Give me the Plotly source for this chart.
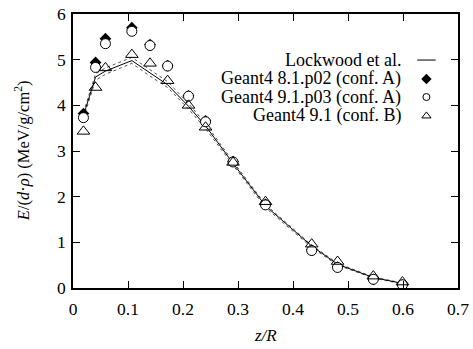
import plotly.graph_objects as go

# Depth positions z/R
z = [0.019, 0.041, 0.059, 0.107, 0.140, 0.172, 0.210, 0.241, 0.291, 0.350, 0.434, 0.481, 0.546, 0.599]

# Lockwood et al. measurement with upper/lower uncertainty bounds
lockwood = [3.78, 4.62, 4.75, 4.98, 4.71, 4.45, 3.98, 3.55, 2.73, 1.80, 0.92, 0.52, 0.23, 0.10]
lockwood_hi = [3.84, 4.69, 4.82, 5.05, 4.78, 4.52, 4.04, 3.60, 2.77, 1.83, 0.94, 0.54, 0.24, 0.11]
lockwood_lo = [3.72, 4.55, 4.68, 4.92, 4.64, 4.39, 3.92, 3.49, 2.69, 1.76, 0.89, 0.50, 0.22, 0.09]

# Simulation results
g4_81 = [3.82, 4.94, 5.46, 5.70, 5.33, 4.87, 4.21, 3.66, 2.77, 1.83, 0.83, 0.46, 0.19, 0.07]
g4_91p03 = [3.73, 4.83, 5.35, 5.62, 5.31, 4.86, 4.20, 3.64, 2.76, 1.82, 0.82, 0.45, 0.19, 0.07]
g4_91b = [3.43, 4.39, 4.82, 5.11, 4.92, 4.54, 4.00, 3.52, 2.75, 1.89, 0.96, 0.58, 0.26, 0.13]

legend_labels = ["Lockwood et al.", "Geant4 8.1.p02 (conf. A)",
                 "Geant4 9.1.p03 (conf. A)", "Geant4 9.1 (conf. B)"]
x_title = "<i>z/R</i>"
y_title = "<i>E</i>/(<i>d</i>·<i>ρ</i>) (MeV/g/cm<sup>2</sup>)"

FONT = "Liberation Serif"

fig = go.Figure()

for band in (lockwood_hi, lockwood_lo):
    fig.add_trace(go.Scatter(x=z, y=band, mode="lines",
                             line=dict(color="#555555", width=1, dash="dot"),
                             showlegend=False, hoverinfo="skip"))
fig.add_trace(go.Scatter(x=z, y=lockwood, mode="lines",
                         line=dict(color="black", width=1), showlegend=False))
fig.add_trace(go.Scatter(x=z, y=g4_81, mode="markers",
                         marker=dict(symbol="diamond", size=9, color="black"),
                         showlegend=False))
fig.add_trace(go.Scatter(x=z, y=g4_91p03, mode="markers",
                         marker=dict(symbol="circle", size=10, color="white",
                                     line=dict(color="black", width=1)),
                         showlegend=False))
fig.add_trace(go.Scatter(x=z, y=g4_91b, mode="markers",
                         marker=dict(symbol="triangle-up-open", size=11, color="black",
                                     line=dict(width=1)),
                         showlegend=False))

# Hand-built key: right-aligned labels with the sample glyph to their right
row_y = [0.832, 0.763, 0.697, 0.628]
text_x = 0.857
glyph_x = 0.918
for label, ry in zip(legend_labels, row_y):
    fig.add_annotation(x=text_x, y=ry, xref="paper", yref="paper", text=label,
                       showarrow=False, xanchor="right", yanchor="middle",
                       font=dict(family=FONT, size=18, color="black"))
fig.add_shape(type="line", xref="paper", yref="paper",
              x0=glyph_x - 0.024, x1=glyph_x + 0.024, y0=row_y[0], y1=row_y[0],
              line=dict(color="black", width=1))
fig.add_trace(go.Scatter(x=[glyph_x], y=[row_y[1]], xaxis="x2", yaxis="y2", mode="markers",
                         marker=dict(symbol="diamond", size=8, color="black"),
                         showlegend=False, hoverinfo="skip"))
fig.add_trace(go.Scatter(x=[glyph_x], y=[row_y[2]], xaxis="x2", yaxis="y2", mode="markers",
                         marker=dict(symbol="circle-open", size=7, color="black",
                                     line=dict(width=1)),
                         showlegend=False, hoverinfo="skip"))
fig.add_trace(go.Scatter(x=[glyph_x], y=[row_y[3]], xaxis="x2", yaxis="y2", mode="markers",
                         marker=dict(symbol="triangle-up-open", size=8, color="black",
                                     line=dict(width=1)),
                         showlegend=False, hoverinfo="skip"))

# Axis titles
fig.add_annotation(x=0.5, y=-0.172, xref="paper", yref="paper", text=x_title,
                   showarrow=False, xanchor="center", yanchor="middle",
                   font=dict(family=FONT, size=17, color="black"))
fig.add_annotation(x=-0.132, y=0.5, xref="paper", yref="paper", text=y_title,
                   showarrow=False, xanchor="center", yanchor="middle", textangle=-90,
                   font=dict(family=FONT, size=16.5, color="black"))

axis_common = dict(showline=True, linecolor="black", linewidth=1.5, mirror="ticks",
                   ticks="inside", ticklen=7, tickwidth=1, tickcolor="black",
                   showgrid=False, zeroline=False, automargin=False,
                   tickfont=dict(family=FONT, size=17.5, color="black"))

fig.update_layout(
    width=473, height=349,
    margin=dict(l=73, r=15, t=14, b=61),
    paper_bgcolor="white", plot_bgcolor="white",
    font=dict(family=FONT, size=17, color="black"),
    xaxis=dict(range=[0, 0.7], dtick=0.1, ticklabelstandoff=4, **axis_common),
    yaxis=dict(range=[0, 6], dtick=1, ticklabelstandoff=2, **axis_common),
    xaxis2=dict(range=[0, 1], overlaying="x", visible=False, fixedrange=True),
    yaxis2=dict(range=[0, 1], overlaying="y", visible=False, fixedrange=True),
    showlegend=False,
)

fig.write_html("out.html")
